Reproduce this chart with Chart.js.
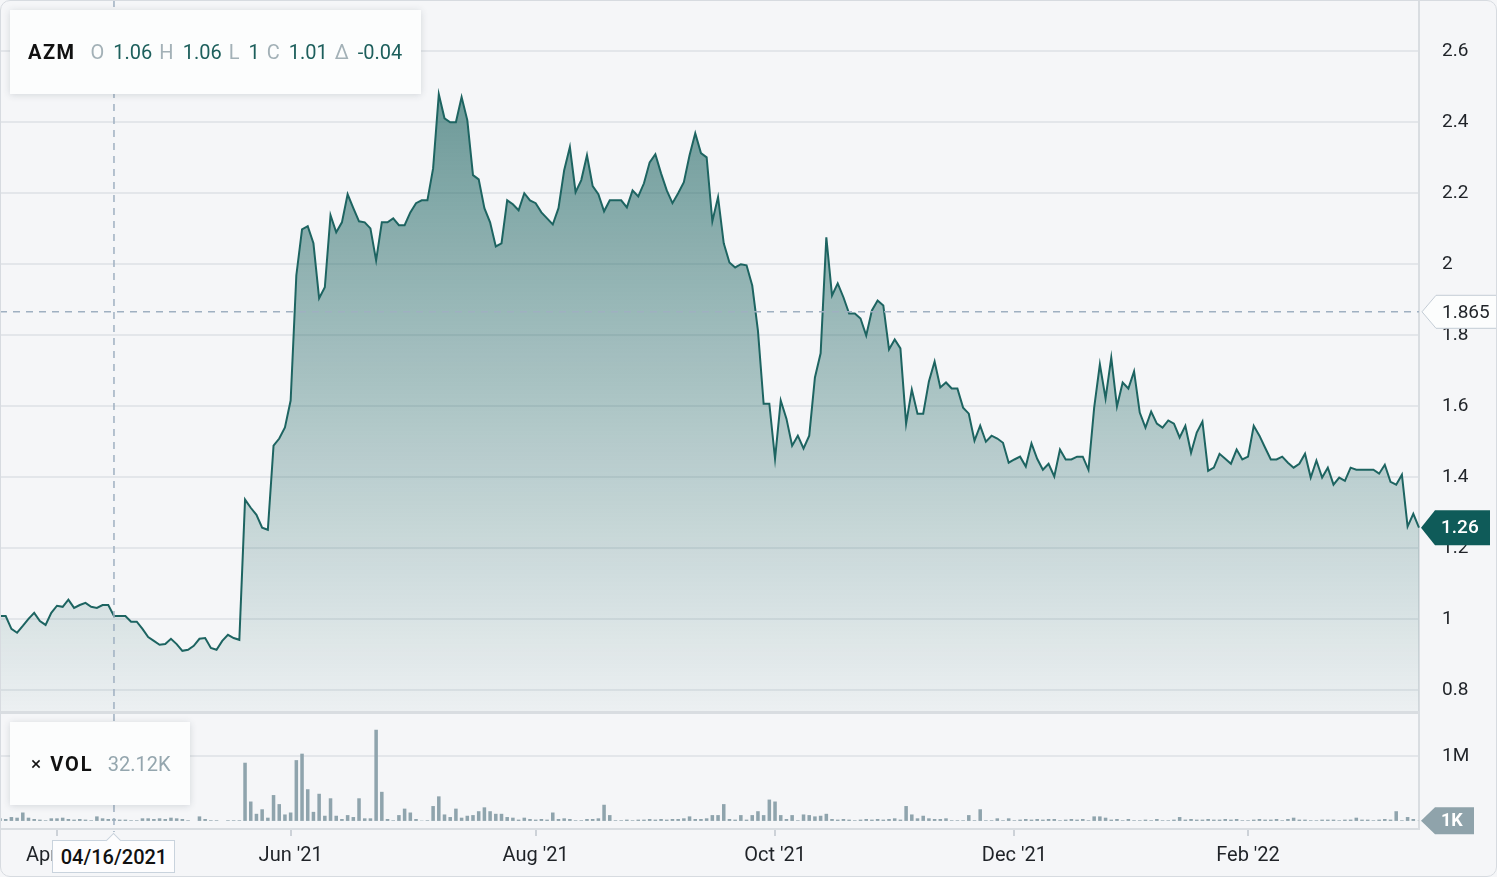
<!DOCTYPE html>
<html>
<head>
<meta charset="utf-8">
<script src="https://cdn.jsdelivr.net/npm/chart.js@4.4.1/dist/chart.umd.min.js"></script>
<style>
  html, body { margin: 0; padding: 0; }
  body { width: 1497px; height: 877px; background: #f5f6f8; position: relative; overflow: hidden;
         font-family: Roboto, 'DejaVu Sans', sans-serif; }
  canvas { position: absolute; left: 0; }
  #price { top: 0; }
  #vol { top: 711px; }
  .box { position: absolute; background: #fcfdfd; box-shadow: 0 1px 7px rgba(40, 55, 70, 0.16);
         display: flex; align-items: center; font-size: 20px; white-space: nowrap; }
  #ohlc { left: 10px; top: 10px; width: 393px; height: 84px; padding-left: 18px; }
  #ohlc .sym { font-weight: 700; letter-spacing: 1.5px; color: #111; margin-right: 15px; }
  #ohlc .k { color: #a3b1b7; margin-right: 9px; }
  #ohlc .v { color: #1d5f5c; margin-right: 7px; }
  #volbox { left: 10px; top: 722px; width: 159px; height: 83px; padding-left: 21px; }
  #volbox .x { color: #111; margin-right: 9px; font-size: 19px; }
  #volbox .sym { font-weight: 700; letter-spacing: 2px; color: #111; margin-right: 14px; }
  #volbox .v { color: #94a6ae; }
  #datebox { position: absolute; top: 840px; width: 121px; height: 31px; background: #fdfdfe;
             border: 1px solid #c9d3dd; font-size: 20px; font-weight: 500; color: #111;
             display: flex; align-items: center; justify-content: center; }
  #datebox::before { content: ''; position: absolute; left: 55px; top: -6px; width: 10px; height: 10px;
                     background: #fdfdfe; border-left: 1px solid #c9d3dd; border-top: 1px solid #c9d3dd;
                     transform: rotate(45deg); }
  #frame { position: absolute; left: 0; top: 0; width: 1495px; height: 875px; border: 1px solid #d7dbe0;
           border-radius: 10px; pointer-events: none; }
</style>
</head>
<body>
<canvas id="price" width="1497" height="711"></canvas>
<canvas id="vol" width="1497" height="166"></canvas>

<div id="ohlc" class="box">
  <span class="sym">AZM</span>
  <span class="k">O</span><span class="v">1.06</span>
  <span class="k">H</span><span class="v">1.06</span>
  <span class="k">L</span><span class="v">1</span>
  <span class="k">C</span><span class="v">1.01</span>
  <span class="k">Δ</span><span class="v">-0.04</span>
</div>
<div id="volbox" class="box"><span class="x">×</span><span class="sym">VOL</span><span class="v">32.12K</span></div>
<div id="datebox">04/16/2021</div>
<div id="frame"></div>

<script>
// trading days (TSX-V), weekends and exchange holidays skipped
const firstDay = '2021-03-18';
const lastDay = '2022-03-16';
const holidays = ['2021-04-02', '2021-05-24', '2021-07-01', '2021-08-02', '2021-09-06',
                  '2021-10-11', '2021-12-27', '2021-12-28', '2022-01-03', '2022-02-21'];

// closing prices, one per trading day
const closes = [
  1.008, 1.008, 0.972, 0.961, 0.980, 1.000, 1.017, 0.994, 0.983, 1.017,
  1.037, 1.034, 1.054, 1.031, 1.039, 1.045, 1.034, 1.031, 1.039, 1.039,
  1.008, 1.008, 1.008, 0.992, 0.992, 0.972, 0.949, 0.938, 0.927, 0.929,
  0.944, 0.929, 0.910, 0.913, 0.924, 0.944, 0.946, 0.918, 0.913, 0.938,
  0.955, 0.946, 0.941, 1.336, 1.313, 1.293, 1.257, 1.251, 1.488, 1.508,
  1.539, 1.615, 1.968, 2.097, 2.106, 2.058, 1.903, 1.934, 2.137, 2.089,
  2.117, 2.196, 2.157, 2.120, 2.117, 2.100, 2.010, 2.117, 2.117, 2.128,
  2.109, 2.109, 2.145, 2.171, 2.179, 2.179, 2.269, 2.478, 2.410, 2.399,
  2.399, 2.470, 2.405, 2.250, 2.238, 2.157, 2.117, 2.049, 2.058, 2.179,
  2.168, 2.151, 2.199, 2.179, 2.171, 2.145, 2.128, 2.111, 2.157, 2.264,
  2.329, 2.202, 2.236, 2.306, 2.219, 2.196, 2.148, 2.179, 2.179, 2.179,
  2.159, 2.207, 2.190, 2.227, 2.286, 2.309, 2.255, 2.207, 2.171, 2.199,
  2.230, 2.306, 2.368, 2.312, 2.300, 2.120, 2.188, 2.058, 2.004, 1.990,
  1.999, 1.996, 1.939, 1.812, 1.606, 1.606, 1.451, 1.615, 1.564, 1.488,
  1.516, 1.480, 1.516, 1.680, 1.748, 2.075, 1.911, 1.945, 1.906, 1.860,
  1.860, 1.846, 1.798, 1.869, 1.897, 1.883, 1.759, 1.787, 1.762, 1.550,
  1.646, 1.578, 1.578, 1.669, 1.725, 1.652, 1.666, 1.649, 1.649, 1.595,
  1.578, 1.502, 1.544, 1.499, 1.516, 1.508, 1.496, 1.440, 1.449, 1.457,
  1.429, 1.494, 1.451, 1.420, 1.437, 1.401, 1.477, 1.449, 1.449, 1.457,
  1.457, 1.420, 1.595, 1.717, 1.621, 1.736, 1.598, 1.666, 1.649, 1.697,
  1.581, 1.539, 1.584, 1.550, 1.539, 1.559, 1.550, 1.511, 1.544, 1.468,
  1.525, 1.556, 1.417, 1.426, 1.465, 1.451, 1.437, 1.477, 1.449, 1.457,
  1.544, 1.516, 1.482, 1.449, 1.449, 1.457, 1.440, 1.426, 1.437, 1.465,
  1.398, 1.446, 1.398, 1.426, 1.378, 1.398, 1.389, 1.426, 1.420, 1.420,
  1.420, 1.420, 1.409, 1.434, 1.386, 1.378, 1.406, 1.260, 1.296, 1.257
];

// daily volume, millions of shares
const volumes = [
  0.04, 0.03, 0.06, 0.05, 0.13, 0.05, 0.03, 0.02, 0.01, 0.04,
  0.04, 0.05, 0.03, 0.02, 0.03, 0.02, 0.01, 0.07, 0.04, 0.03,
  0.032, 0.02, 0.02, 0.01, 0.01, 0.04, 0.04, 0.03, 0.04, 0.03,
  0.05, 0.04, 0.03, 0.01, 0.00, 0.07, 0.03, 0.01, 0.01, 0.00,
  0.01, 0.01, 0.01, 0.90, 0.30, 0.11, 0.18, 0.05, 0.40, 0.26,
  0.10, 0.13, 0.94, 1.04, 0.49, 0.14, 0.42, 0.08, 0.35, 0.08,
  0.03, 0.09, 0.06, 0.35, 0.04, 0.04, 1.41, 0.45, 0.03, 0.01,
  0.09, 0.19, 0.13, 0.03, 0.005, 0.01, 0.23, 0.38, 0.10, 0.06,
  0.19, 0.05, 0.08, 0.09, 0.15, 0.21, 0.15, 0.11, 0.11, 0.06,
  0.05, 0.02, 0.05, 0.03, 0.02, 0.03, 0.02, 0.13, 0.03, 0.04,
  0.03, 0.01, 0.01, 0.03, 0.03, 0.04, 0.25, 0.09, 0.01, 0.01,
  0.02, 0.01, 0.02, 0.02, 0.03, 0.02, 0.03, 0.02, 0.03, 0.03,
  0.04, 0.07, 0.03, 0.03, 0.04, 0.09, 0.09, 0.26, 0.03, 0.02,
  0.09, 0.02, 0.09, 0.15, 0.09, 0.33, 0.30, 0.09, 0.03, 0.09,
  0.01, 0.10, 0.09, 0.07, 0.08, 0.11, 0.03, 0.02, 0.03, 0.02,
  0.01, 0.02, 0.03, 0.02, 0.03, 0.02, 0.03, 0.04, 0.02, 0.23,
  0.10, 0.04, 0.08, 0.04, 0.03, 0.03, 0.04, 0.01, 0.01, 0.01,
  0.09, 0.01, 0.18, 0.01, 0.01, 0.04, 0.01, 0.04, 0.01, 0.02,
  0.03, 0.02, 0.03, 0.02, 0.03, 0.03, 0.01, 0.02, 0.03, 0.02,
  0.03, 0.01, 0.07, 0.07, 0.05, 0.02, 0.03, 0.01, 0.03, 0.01,
  0.01, 0.02, 0.01, 0.03, 0.01, 0.01, 0.02, 0.06, 0.02, 0.03,
  0.02, 0.02, 0.03, 0.02, 0.02, 0.03, 0.02, 0.03, 0.01, 0.01,
  0.02, 0.03, 0.02, 0.02, 0.03, 0.01, 0.03, 0.05, 0.02, 0.02,
  0.01, 0.01, 0.02, 0.02, 0.02, 0.01, 0.02, 0.02, 0.05, 0.02,
  0.02, 0.01, 0.02, 0.03, 0.02, 0.15, 0.01, 0.06, 0.03, 0.001
];

const priceTicks = [0.8, 1, 1.2, 1.4, 1.6, 1.8, 2, 2.2, 2.4, 2.6];
const tickMonths = ['2021-04', '2021-06', '2021-08', '2021-10', '2021-12', '2022-02'];
const tickLabels = ["Apr '21", "Jun '21", "Aug '21", "Oct '21", "Dec '21", "Feb '22"];
const refPrice = 1.865;
const crossDay = '2021-04-16';

const FONT = "Roboto, 'DejaVu Sans', sans-serif";
const LINE = '#1d6461';
const GRID = '#e3e6ea';
const EDGE = '#d9dde1';
const DASH = '#9fb0c1';

const days = [];
for (let d = new Date(firstDay + 'T00:00:00Z'); d <= new Date(lastDay + 'T00:00:00Z'); d.setUTCDate(d.getUTCDate() + 1)) {
    const key = d.toISOString().slice(0, 10);
    const wd = d.getUTCDay();
    if (wd !== 0 && wd !== 6 && !holidays.includes(key)) days.push(key);
}
const tickIdx = tickMonths.map(m => days.findIndex(d => d.startsWith(m)));
const crossIdx = days.indexOf(crossDay);

function noPad(s) {
    s.paddingTop = 0; s.paddingBottom = 0; s.paddingLeft = 0; s.paddingRight = 0;
}

function badge(ctx, tipX, y, bodyW, h, fill, stroke, text, color, font) {
    const nose = 14;
    ctx.save();
    ctx.beginPath();
    ctx.moveTo(tipX, y);
    ctx.lineTo(tipX + nose, y - h / 2);
    ctx.lineTo(tipX + nose + bodyW, y - h / 2);
    ctx.lineTo(tipX + nose + bodyW, y + h / 2);
    ctx.lineTo(tipX + nose, y + h / 2);
    ctx.closePath();
    ctx.fillStyle = fill;
    ctx.fill();
    if (stroke) {
        ctx.strokeStyle = stroke;
        ctx.lineWidth = 1;
        ctx.stroke();
    }
    ctx.fillStyle = color;
    ctx.font = font;
    ctx.textAlign = 'left';
    ctx.textBaseline = 'middle';
    ctx.fillText(text, tipX + nose + 6, y + 1);
    ctx.restore();
}

function dashed(ctx, x1, y1, x2, y2) {
    ctx.save();
    ctx.strokeStyle = DASH;
    ctx.lineWidth = 1.5;
    ctx.setLineDash([7, 6]);
    ctx.beginPath();
    ctx.moveTo(x1, y1);
    ctx.lineTo(x2, y2);
    ctx.stroke();
    ctx.restore();
}

// Kruislijn, referentielijn en prijslabels
const priceOverlay = {
    id: 'priceOverlay',
    afterDatasetsDraw(chart) {
        const { ctx, chartArea: a, scales } = chart;
        const yRef = scales.y.getPixelForValue(refPrice);
        dashed(ctx, a.left, yRef, a.right, yRef);
        const xc = scales.x.getPixelForValue(crossIdx);
        dashed(ctx, xc, a.top, xc, a.bottom);
    },
    afterDraw(chart) {
        const { ctx, chartArea: a, scales } = chart;
        badge(ctx, a.right + 3, scales.y.getPixelForValue(refPrice), 80, 33,
              '#fcfdfd', '#c3ccd5', refPrice.toFixed(3), '#1f2328', '400 19px ' + FONT);
        const last = closes[closes.length - 1];
        badge(ctx, a.right + 2, scales.y.getPixelForValue(last), 55, 35,
              '#0f5b59', null, last.toFixed(2), '#ffffff', '500 19px ' + FONT);
    }
};

const volOverlay = {
    id: 'volOverlay',
    afterDatasetsDraw(chart) {
        const { ctx, chartArea: a, scales } = chart;
        ctx.save();
        ctx.strokeStyle = EDGE;
        ctx.lineWidth = 3;
        ctx.beginPath();
        ctx.moveTo(a.left, a.top + 1.5);
        ctx.lineTo(a.right, a.top + 1.5);
        ctx.stroke();
        ctx.restore();
        const xc = scales.x.getPixelForValue(crossIdx);
        dashed(ctx, xc, a.top + 3, xc, a.bottom + 3);
    },
    afterDraw(chart) {
        const { ctx, chartArea: a, scales } = chart;
        const last = volumes[volumes.length - 1];
        badge(ctx, a.right + 2, scales.y.getPixelForValue(last), 39, 27,
              '#8fa3ab', null, Math.round(last * 1000) + 'K', '#ffffff', '700 18px ' + FONT);
    }
};

const priceChart = new Chart(document.getElementById('price'), {
    type: 'line',
    data: {
        labels: days,
        datasets: [{
            data: closes,
            borderColor: LINE,
            borderWidth: 2,
            pointRadius: 0,
            tension: 0,
            fill: 'start',
            backgroundColor: (context) => {
                const { ctx, chartArea } = context.chart;
                if (!chartArea) return 'rgba(0,0,0,0)';
                const g = ctx.createLinearGradient(0, chartArea.top, 0, chartArea.bottom);
                g.addColorStop(0, 'rgba(29, 100, 97, 0.72)');
                g.addColorStop(1, 'rgba(29, 100, 97, 0.04)');
                return g;
            }
        }]
    },
    options: {
        responsive: false,
        animation: false,
        devicePixelRatio: 1,
        layout: { padding: 0 },
        plugins: { legend: { display: false }, tooltip: { enabled: false } },
        scales: {
            x: { display: false, offset: false },
            y: {
                position: 'right',
                min: 0.7405,
                max: 2.7433,
                afterFit: (s) => { s.width = 78; noPad(s); },
                afterBuildTicks: (s) => { s.ticks = priceTicks.map(v => ({ value: v })); },
                ticks: { padding: 23, color: '#1f2328', font: { size: 19, family: FONT }, callback: (v) => String(v) },
                grid: { color: GRID, lineWidth: 2, drawTicks: false },
                border: { display: true, color: EDGE, width: 2 }
            }
        }
    },
    plugins: [priceOverlay]
});

new Chart(document.getElementById('vol'), {
    type: 'bar',
    data: {
        labels: days,
        datasets: [{
            data: volumes,
            backgroundColor: '#8fa4ad',
            barPercentage: 0.62,
            categoryPercentage: 1
        }]
    },
    options: {
        responsive: false,
        animation: false,
        devicePixelRatio: 1,
        layout: { padding: 0 },
        plugins: { legend: { display: false }, tooltip: { enabled: false } },
        scales: {
            x: {
                offset: false,
                afterFit: (s) => { s.height = 48; noPad(s); },
                afterBuildTicks: (s) => { s.ticks = tickIdx.map(i => ({ value: i })); },
                ticks: {
                    autoSkip: false, maxRotation: 0, padding: 8, color: '#1f2328',
                    font: { size: 20, family: FONT },
                    callback: (v, k) => tickLabels[k]
                },
                grid: { offset: false, drawOnChartArea: false, drawTicks: true, tickLength: 7, color: '#cdd2d8', lineWidth: 2 },
                border: { display: true, color: EDGE, width: 2 }
            },
            y: {
                position: 'right',
                min: -0.125,
                max: 1.70,
                afterFit: (s) => { s.width = 78; noPad(s); },
                afterBuildTicks: (s) => { s.ticks = [{ value: 1 }]; },
                ticks: { padding: 23, color: '#1f2328', font: { size: 19, family: FONT }, callback: () => '1M' },
                grid: { color: GRID, lineWidth: 2, drawTicks: false },
                border: { display: true, color: EDGE, width: 2 }
            }
        }
    },
    plugins: [volOverlay]
});

// datumlabel onder de kruislijn
const xc = priceChart.scales.x.getPixelForValue(crossIdx);
document.getElementById('datebox').style.left = (xc - 61.5) + 'px';
</script>
</body>
</html>
